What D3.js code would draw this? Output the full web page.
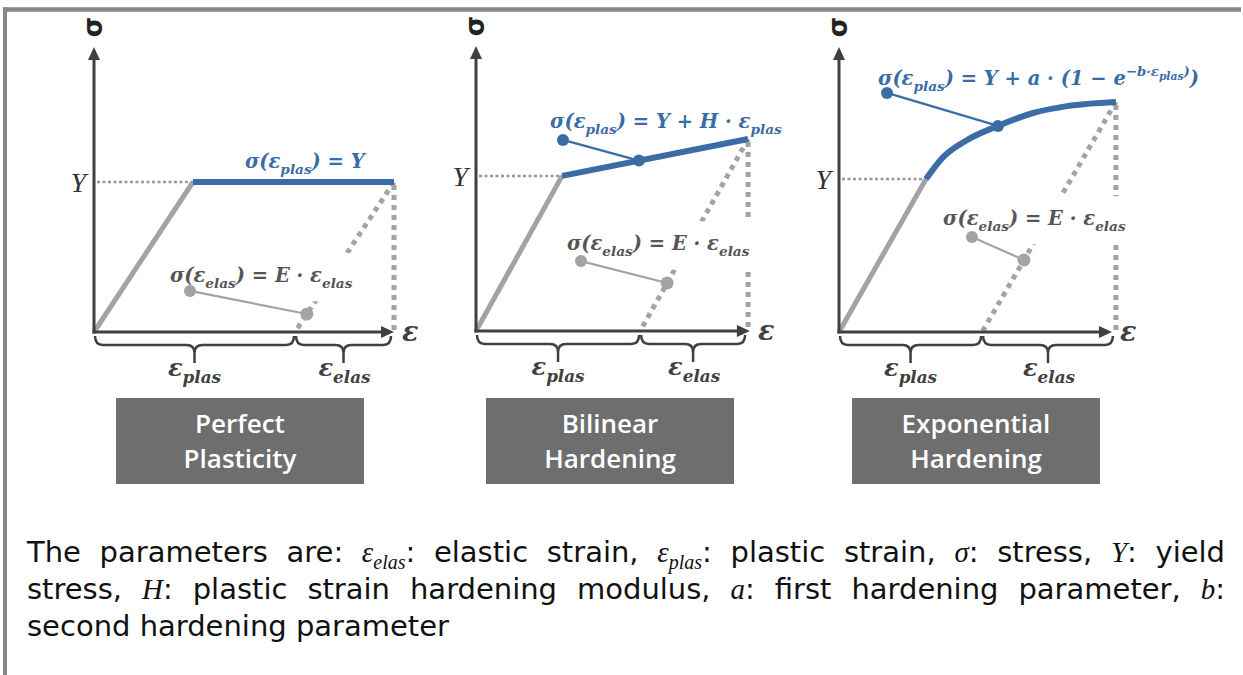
<!doctype html>
<html lang="en">
<head>
<meta charset="utf-8">
<title>Plasticity models</title>
<script src="https://cdnjs.cloudflare.com/ajax/libs/d3/7.8.5/d3.min.js"></script>
<style>
  body { margin: 0; background: #fff; }
</style>
</head>
<body>
<svg width="1243" height="675" id="svg"></svg>
<script>
// ---- values (strain / stress in diagram units) ----
var boxLabels = [['Perfect', 'Plasticity'], ['Bilinear', 'Hardening'], ['Exponential', 'Hardening']];
var yieldStrain = [33, 28.7, 29];
var yieldStress = [50, 51.7, 51];
var hardStrain = [[33, 100], [28.7, 90.7], [29, 34.7, 42.7, 53, 64.7, 76, 92.3]];
var hardStress = [[50, 50], [51.7, 64], [51, 58.3, 64, 68.7, 73, 75.3, 76.7]];
var plasStrain = [67, 54.7, 47.7];
var strainMax = [100, 91.3, 91];
var stressMax = 95;
var hardDot = [null, [54.3, 56.8], [53, 68.7]];
var hardLabelDot = [null, [29, 63.7], [16, 79.7]];
var elasDotStress = [6, 16, 24];
var elasLabelDot = [[32, 13.7], [35, 23.3], [44.3, 31.7]];

// formulas: [text, level] level 0 normal, 1 sub, 2 sup, 3 sub in sup
var hardFormula = [
  [['σ(ε', 0], ['plas', 1], [') = Y', 0]],
  [['σ(ε', 0], ['plas', 1], [') = Y + H · ε', 0], ['plas', 1]],
  [['σ(ε', 0], ['plas', 1], [') = Y + a · (1 − e', 0], ['−b·ε', 2], ['plas', 3], [')', 2], [')', 0]]
];
var elasFormula = [['σ(ε', 0], ['elas', 1], [') = E · ε', 0], ['elas', 1]];

var captionLines = [
  ['The', 'parameters', 'are:', {m: 'ε', s: 'elas', t: ':'}, 'elastic', 'strain,', {m: 'ε', s: 'plas', t: ':'},
   'plastic', 'strain,', {m: 'σ', s: '', t: ':'}, 'stress,', {m: 'Y', s: '', t: ':'}, 'yield'],
  ['stress,', {m: 'H', s: '', t: ':'}, 'plastic', 'strain', 'hardening', 'modulus,', {m: 'a', s: '', t: ':'},
   'first', 'hardening', 'parameter,', {m: 'b', s: '', t: ':'}],
  ['second', 'hardening', 'parameter']
];

// ---- layout ----
var origins = [[94, 332], [476, 331], [839, 332]];
var boxX = [116, 486, 852];
var hardText = [[50.3, 54.7], [24.7, 67.7], [13, 82.3]];
var elasText = [[25.3, 16.7], [30.3, 27], [34.7, 35.7]];

var blue = '#3b6ca5', dark = '#404040', lightGray = '#a3a3a3';
var mathFont = '"DejaVu Serif", serif';

var svg = d3.select('#svg');

var x = d3.scaleLinear().domain([0, 100]).range([0, 300]);
var y = d3.scaleLinear().domain([0, 100]).range([0, -300]);

var levelStyle = {0: [1, 0], 1: [0.7, 0.3], 2: [0.68, -0.45], 3: [0.55, -0.28]};

function addMath(sel, segs, size) {
  var cur = 0;
  segs.forEach(function(s) {
    var st = levelStyle[s[1]];
    var target = st[1] * size;
    sel.append('tspan')
      .attr('font-size', st[0] * size)
      .attr('dy', target - cur)
      .text(s[0]);
    cur = target;
  });
}

function bracePath(x1, x2, y0) {
  var r = 8, mid = (x1 + x2) / 2, y1 = y0 + 9, tip = y0 + 27;
  return 'M' + x1 + ',' + y0 + ' Q' + x1 + ',' + y1 + ' ' + (x1 + r) + ',' + y1 +
    ' L' + (mid - r) + ',' + y1 + ' Q' + mid + ',' + y1 + ' ' + mid + ',' + (y1 + r) +
    ' L' + mid + ',' + tip +
    ' M' + mid + ',' + (y1 + r) + ' Q' + mid + ',' + y1 + ' ' + (mid + r) + ',' + y1 +
    ' L' + (x2 - r) + ',' + y1 + ' Q' + x2 + ',' + y1 + ' ' + x2 + ',' + y0;
}

// frame
svg.append('line').attr('x1', 3).attr('x2', 1241).attr('y1', 9.5).attr('y2', 9.5)
  .attr('stroke', '#878787').attr('stroke-width', 4.5);
svg.append('line').attr('x1', 5).attr('x2', 5).attr('y1', 7.5).attr('y2', 675)
  .attr('stroke', '#878787').attr('stroke-width', 4);

var lineGen = d3.line().x(function(d) { return x(d[0]); }).y(function(d) { return y(d[1]); })
  .curve(d3.curveMonotoneX);

origins.forEach(function(o, i) {
  var g = svg.append('g').attr('transform', 'translate(' + o[0] + ',' + o[1] + ')');
  var gLines = g.append('g'), gMask = g.append('g'), gTop = g.append('g'), gText = g.append('g');

  var pts = hardStrain[i].map(function(e, k) { return [e, hardStress[i][k]]; });
  var end = pts[pts.length - 1];

  // yield reference
  gLines.append('line')
    .attr('x1', 3).attr('x2', x(yieldStrain[i]))
    .attr('y1', y(yieldStress[i])).attr('y2', y(yieldStress[i]))
    .attr('stroke', '#999').attr('stroke-width', 2.5).attr('stroke-dasharray', '3,2.5');

  // unloading and vertical dotted lines
  gLines.append('line')
    .attr('x1', x(end[0])).attr('y1', y(end[1]))
    .attr('x2', x(plasStrain[i])).attr('y2', y(0))
    .attr('stroke', lightGray).attr('stroke-width', 5).attr('stroke-dasharray', '5,5');
  gLines.append('line')
    .attr('x1', x(end[0])).attr('y1', y(end[1]) + 3)
    .attr('x2', x(end[0])).attr('y2', y(0))
    .attr('stroke', lightGray).attr('stroke-width', 5).attr('stroke-dasharray', '5,5');

  // elastic line
  gTop.append('line')
    .attr('x1', x(0)).attr('y1', y(0))
    .attr('x2', x(yieldStrain[i])).attr('y2', y(yieldStress[i]))
    .attr('stroke', lightGray).attr('stroke-width', 5);

  // hardening curve
  gTop.append('path').datum(pts).attr('d', lineGen)
    .attr('fill', 'none').attr('stroke', blue).attr('stroke-width', 6);

  // axes
  var yTop = y(stressMax), xEnd = x(strainMax[i]);
  gTop.append('line').attr('x1', 0).attr('y1', 1.5).attr('x2', 0).attr('y2', yTop + 10)
    .attr('stroke', dark).attr('stroke-width', 3);
  gTop.append('path').attr('d', 'M0,' + yTop + ' L-6,' + (yTop + 13) + ' L6,' + (yTop + 13) + 'Z').attr('fill', dark);
  gTop.append('line').attr('x1', -1.5).attr('y1', 0).attr('x2', xEnd - 10).attr('y2', 0)
    .attr('stroke', dark).attr('stroke-width', 3);
  gTop.append('path').attr('d', 'M' + xEnd + ',0 L' + (xEnd - 13) + ',-6 L' + (xEnd - 13) + ',6Z').attr('fill', dark);

  gText.append('text').attr('transform', 'translate(8,' + (yTop - 20) + ') rotate(-90)')
    .attr('text-anchor', 'middle').attr('font-family', '"DejaVu Sans", sans-serif').attr('font-weight', 'bold')
    .attr('font-size', 26).attr('fill', '#222').text('σ');
  gText.append('text').attr('x', xEnd + 8).attr('y', 9)
    .attr('font-family', mathFont).attr('font-weight', 'bold').attr('font-style', 'italic')
    .attr('font-size', 27).attr('fill', dark).text('ε');
  gText.append('text').attr('x', -8).attr('y', y(yieldStress[i]) + 10).attr('text-anchor', 'end')
    .attr('font-family', '"Liberation Serif", serif').attr('font-style', 'italic')
    .attr('font-size', 28).attr('fill', '#333').text('Y');

  // braces
  gTop.append('path').attr('d', bracePath(x(0) + 1, x(plasStrain[i]) - 1, 4))
    .attr('fill', 'none').attr('stroke', dark).attr('stroke-width', 2.5);
  gTop.append('path').attr('d', bracePath(x(plasStrain[i]) + 1, x(end[0]) - 3, 4))
    .attr('fill', 'none').attr('stroke', dark).attr('stroke-width', 2.5);
  [[(x(0) + x(plasStrain[i])) / 2, 'plas'], [(x(plasStrain[i]) + x(end[0])) / 2, 'elas']].forEach(function(b) {
    var t = gText.append('text').attr('x', b[0]).attr('y', 44).attr('text-anchor', 'middle')
      .attr('font-family', mathFont).attr('font-weight', 'bold').attr('font-style', 'italic')
      .attr('fill', dark);
    addMath(t, [['ε', 0], [b[1], 1]], 24);
  });

  // hardening formula
  var ht = gText.append('text').attr('x', x(hardText[i][0])).attr('y', y(hardText[i][1]))
    .attr('font-family', mathFont).attr('font-weight', 'bold').attr('font-style', 'italic')
    .attr('fill', blue);
  addMath(ht, hardFormula[i], 19.5);
  if (hardDot[i]) {
    gTop.append('line')
      .attr('x1', x(hardLabelDot[i][0])).attr('y1', y(hardLabelDot[i][1]))
      .attr('x2', x(hardDot[i][0])).attr('y2', y(hardDot[i][1]))
      .attr('stroke', blue).attr('stroke-width', 2.2);
    gTop.append('circle').attr('cx', x(hardLabelDot[i][0])).attr('cy', y(hardLabelDot[i][1])).attr('r', 6).attr('fill', blue);
    gTop.append('circle').attr('cx', x(hardDot[i][0])).attr('cy', y(hardDot[i][1])).attr('r', 6).attr('fill', blue);
  }

  // elastic formula with white backing
  var et = gText.append('text').attr('x', x(elasText[i][0])).attr('y', y(elasText[i][1]))
    .attr('font-family', mathFont).attr('font-weight', 'bold').attr('font-style', 'italic')
    .attr('fill', '#555');
  addMath(et, elasFormula, 19.5);
  var bb = et.node().getBBox();
  var cy = bb.y + bb.height / 2;
  gMask.append('rect').attr('x', bb.x - 4).attr('y', cy - 24).attr('width', bb.width + 8).attr('height', 48)
    .attr('fill', '#fff');

  var t = elasDotStress[i] / end[1];
  var ex = plasStrain[i] + (end[0] - plasStrain[i]) * t;
  gTop.append('line')
    .attr('x1', x(elasLabelDot[i][0])).attr('y1', y(elasLabelDot[i][1]))
    .attr('x2', x(ex)).attr('y2', y(elasDotStress[i]))
    .attr('stroke', lightGray).attr('stroke-width', 2.2);
  gTop.append('circle').attr('cx', x(elasLabelDot[i][0])).attr('cy', y(elasLabelDot[i][1])).attr('r', 6).attr('fill', lightGray);
  gTop.append('circle').attr('cx', x(ex)).attr('cy', y(elasDotStress[i])).attr('r', 6.5).attr('fill', lightGray);

  // model name box
  svg.append('rect').attr('x', boxX[i]).attr('y', 398).attr('width', 248).attr('height', 86).attr('fill', '#6e6e6e');
  boxLabels[i].forEach(function(s, k) {
    svg.append('text').attr('x', boxX[i] + 124).attr('y', 433 + k * 35).attr('text-anchor', 'middle')
      .attr('font-family', '"Open Sans", sans-serif').attr('font-weight', 600).attr('font-size', 26)
      .attr('fill', '#fff').text(s);
  });
});

// caption, justified
var capLeft = 27, capRight = 1225, capBase = [562, 599, 636];
captionLines.forEach(function(words, li) {
  var items = words.map(function(w) {
    var t = svg.append('text').attr('y', capBase[li]).attr('font-family', '"DejaVu Sans", sans-serif')
      .attr('font-size', 29).attr('fill', '#111');
    if (typeof w === 'string') {
      t.text(w);
    } else {
      t.append('tspan').attr('font-family', '"Liberation Serif", serif').attr('font-style', 'italic').text(w.m);
      var dy = 0;
      if (w.s) {
        t.append('tspan').attr('font-family', '"Liberation Serif", serif').attr('font-style', 'italic')
          .attr('font-size', 20).attr('dy', 7).text(w.s);
        dy = -7;
      }
      t.append('tspan').attr('dy', dy).text(w.t);
    }
    return {t: t, w: t.node().getComputedTextLength()};
  });
  var total = d3.sum(items, function(d) { return d.w; });
  var gap = li < 2 ? (capRight - capLeft - total) / (items.length - 1) : 9.2;
  var cx = capLeft;
  items.forEach(function(d) {
    d.t.attr('x', cx);
    cx += d.w + gap;
  });
});
</script>
</body>
</html>
